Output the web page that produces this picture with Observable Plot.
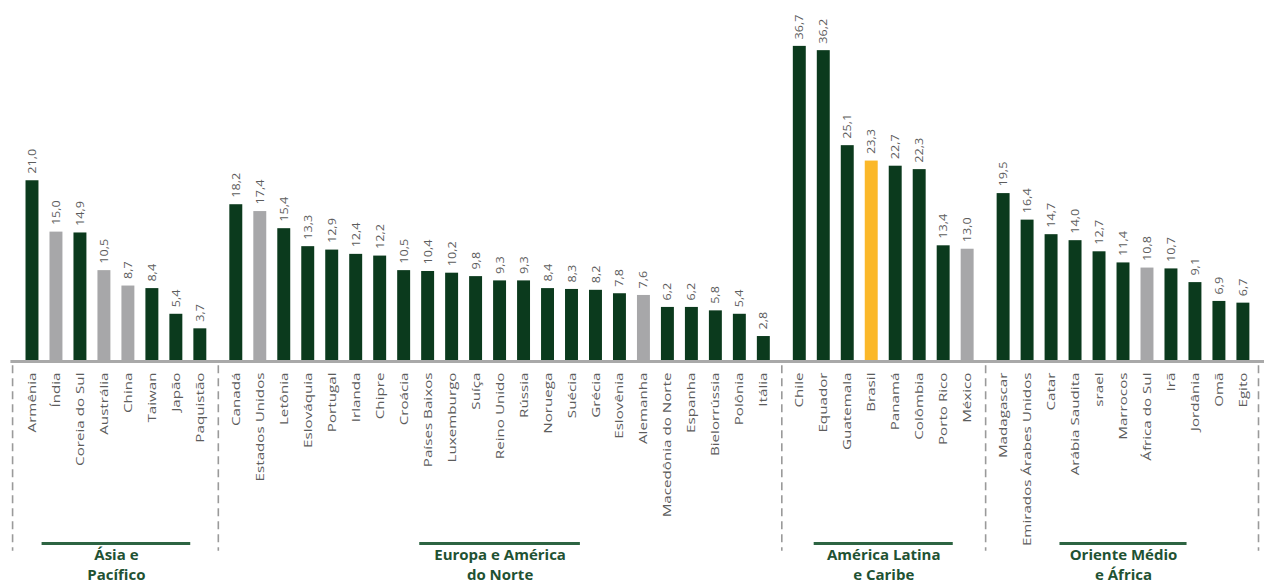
<!DOCTYPE html>
<html>
<head>
<meta charset="utf-8">
<script src="https://cdn.jsdelivr.net/npm/d3@7"></script>
<script src="https://cdn.jsdelivr.net/npm/@observablehq/plot@0.6"></script>
<style>
  html, body { margin: 0; padding: 0; background: #ffffff; }
  #chart { width: 1264px; height: 585px; overflow: hidden; }
  svg { font-family: "Open Sans", "Noto Sans", sans-serif; }
</style>
</head>
<body>
<div id="chart"></div>
<script>
// ---- data ----
const groupNames = ["Ásia e\nPacífico", "Europa e América\ndo Norte", "América Latina\ne Caribe", "Oriente Médio\ne África"];

const asiaCountries = ["Armênia", "Índia", "Coreia do Sul", "Austrália", "China", "Taiwan", "Japão", "Paquistão"];
const asiaValues = [21.0, 15.0, 14.9, 10.5, 8.7, 8.4, 5.4, 3.7];

const europeCountries = ["Canadá", "Estados Unidos", "Letônia", "Eslováquia", "Portugal", "Irlanda", "Chipre", "Croácia", "Países Baixos", "Luxemburgo", "Suíça", "Reino Unido", "Rússia", "Noruega", "Suécia", "Grécia", "Eslovênia", "Alemanha", "Macedônia do Norte", "Espanha", "Bielorrússia", "Polônia", "Itália"];
const europeValues = [18.2, 17.4, 15.4, 13.3, 12.9, 12.4, 12.2, 10.5, 10.4, 10.2, 9.8, 9.3, 9.3, 8.4, 8.3, 8.2, 7.8, 7.6, 6.2, 6.2, 5.8, 5.4, 2.8];

const latamCountries = ["Chile", "Equador", "Guatemala", "Brasil", "Panamá", "Colômbia", "Porto Rico", "México"];
const latamValues = [36.7, 36.2, 25.1, 23.3, 22.7, 22.3, 13.4, 13.0];

const meaCountries = ["Madagascar", "Emirados Árabes Unidos", "Catar", "Arábia Saudita", "srael", "Marrocos", "África do Sul", "Irã", "Jordânia", "Omã", "Egito"];
const meaValues = [19.5, 16.4, 14.7, 14.0, 12.7, 11.4, 10.8, 10.7, 9.1, 6.9, 6.7];

const grayCountries = ["Índia", "Austrália", "China", "Estados Unidos", "Alemanha", "México", "África do Sul"];
const highlightCountries = ["Brasil"];

// ---- build table ----
const groups = [
  [asiaCountries, asiaValues],
  [europeCountries, europeValues],
  [latamCountries, latamValues],
  [meaCountries, meaValues]
];
const rows = [];
const groupInfo = [];
let idx = 0;
groups.forEach(([cs, vs], g) => {
  const start = idx + 0.5 * g;
  cs.forEach((c, i) => {
    rows.push({country: c, value: vs[i], pos: idx + 0.5 * g, group: g,
      kind: highlightCountries.includes(c) ? "hl" : grayCountries.includes(c) ? "gray" : "main"});
    idx++;
  });
  const end = idx - 1 + 0.5 * g;
  groupInfo.push({name: groupNames[g], center: (start + end) / 2, start, end});
});
const separators = [groupInfo[0].start - 0.83]
  .concat(groupInfo.slice(1).map((gi, i) => (groupInfo[i].end + gi.start) / 2))
  .concat([groupInfo[3].end + 0.63]);
const lineHalf = [3.1, 3.35, 2.9, 2.65];

const fmt = v => v.toFixed(1).replace(".", ",");
const colorOf = {main: "#0b3a1d", gray: "#a7a7a9", hl: "#fbb829"};
const half = 0.27;
const textGray = "#5c5c5c";
const groupGreen = "#1f5233";

const chart = Plot.plot({
  width: 1264,
  height: 585,
  marginLeft: 0, marginRight: 0, marginTop: 0, marginBottom: 0,
  x: {type: "linear", domain: [-1.334, 51.38], range: [0, 1264], axis: null},
  y: {type: "linear", domain: [0, 42.06], range: [360, 0], axis: null},
  marks: [
    Plot.rectY(rows, {x1: d => d.pos - half, x2: d => d.pos + half, y1: 0, y2: "value",
      fill: d => colorOf[d.kind]}),
    Plot.ruleY([0], {x1: -0.9, x2: 51.38, stroke: "#a9a9a9", strokeWidth: 3, dy: 1}),
    Plot.text(rows, {x: "pos", y: "value", text: d => fmt(d.value), rotate: -90,
      textAnchor: "start", dy: -7, fill: textGray, fontSize: 11, letterSpacing: 0.2,
      className: "vlabels"}),
    Plot.text(rows, {x: "pos", y: 0, text: "country", rotate: -90, textAnchor: "end",
      dy: 12, fill: textGray, fontSize: 11, letterSpacing: 0.3, className: "clabels"}),
    Plot.ruleX(separators, {x: d => d, y1: -0.6, y2: -22.3, stroke: "#9a9a9a",
      strokeWidth: 1.6, strokeDasharray: "8,5"}),
    Plot.ruleY(groupInfo, {y: () => 0, x1: (d, i) => d.center - lineHalf[i], x2: (d, i) => d.center + lineHalf[i],
      dy: 183, stroke: "#2d6442", strokeWidth: 3}),
    Plot.text(groupInfo, {x: "center", y: () => 0, text: "name", dy: 185, lineAnchor: "top",
      textAnchor: "middle", fill: groupGreen, fontWeight: "bold", fontSize: 15,
      letterSpacing: 2, lineHeight: 1.34, className: "glabels"})
  ]
});
// stretch rotated labels along their text direction, as in the reference
d3.select(chart).selectAll(".clabels text").attr("transform", function () {
  return this.getAttribute("transform") + " scale(1.38,1)";
});
d3.select(chart).selectAll(".vlabels text").attr("transform", function () {
  return this.getAttribute("transform") + " scale(1.15,1)";
});
document.getElementById("chart").appendChild(chart);
</script>
</body>
</html>
